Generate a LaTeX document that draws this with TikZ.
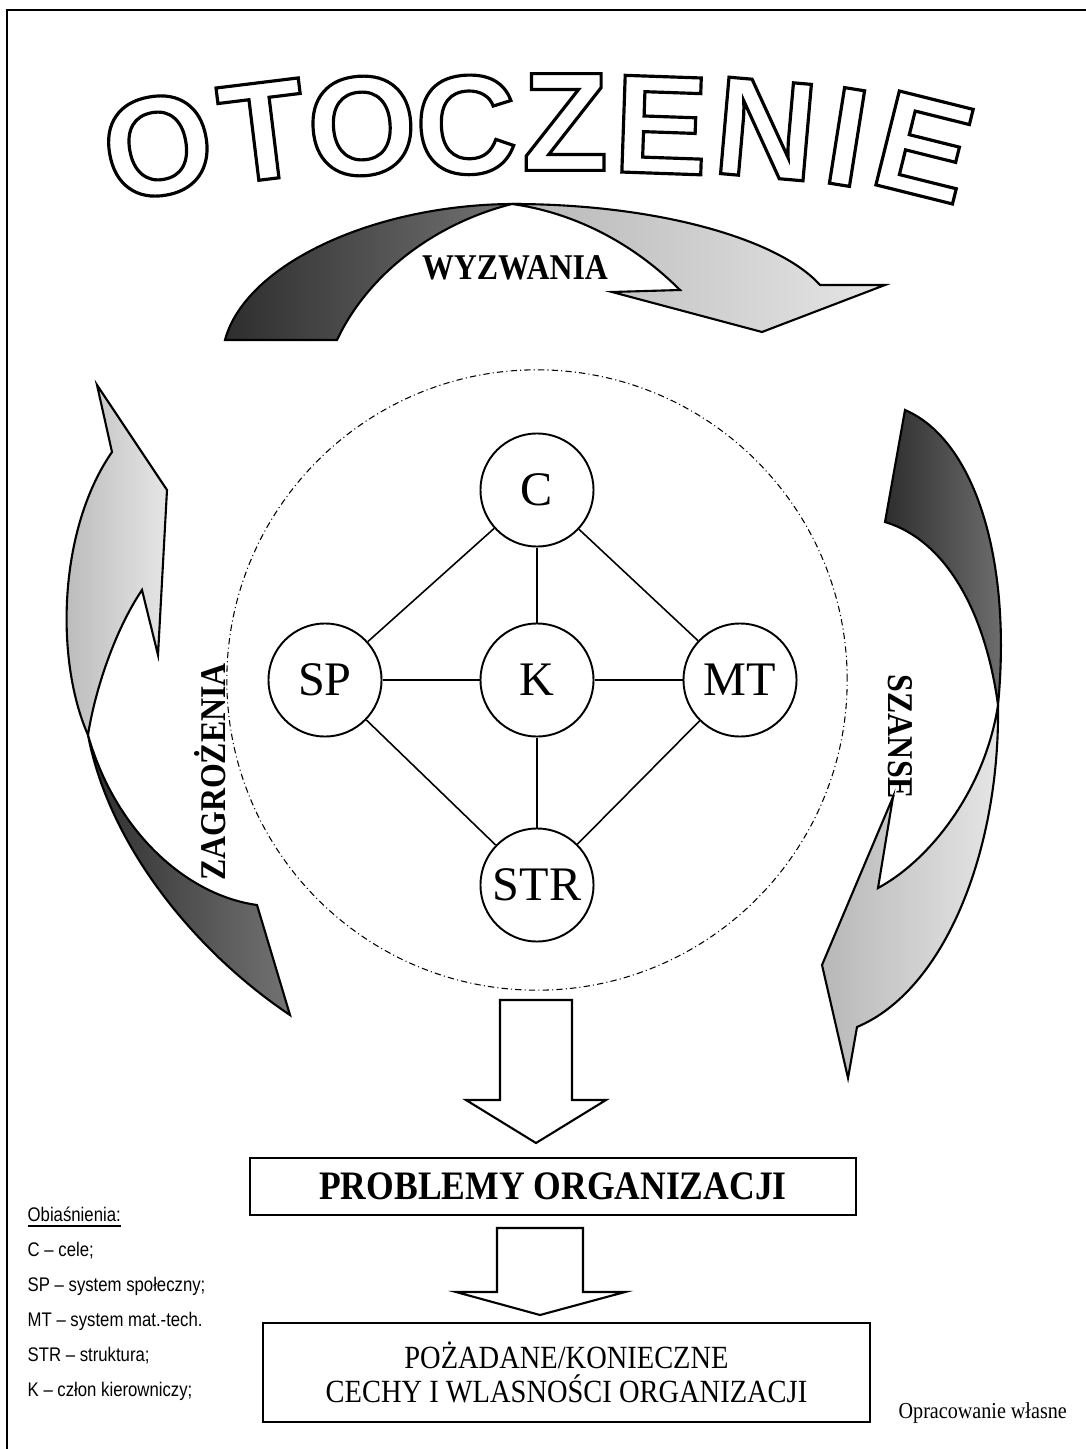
\documentclass[tikz,border=0pt]{standalone}
\usepackage{fontspec}
\setmainfont{Liberation Serif}
\newfontfamily\waski{Liberation Serif}[FakeStretch=0.88]
\newfontfamily\bezszer{Liberation Sans}[FakeStretch=0.85]
\newfontfamily\gruby{Liberation Sans}

\begin{document}
\begin{tikzpicture}[x=0.01cm,y=-0.01cm,
	elem/.style={circle,draw,line width=0.55pt,minimum size=1.13cm,inner sep=0pt,font=\fontsize{13.7}{16}\selectfont},
	litera/.style={inner sep=0pt,font=\gruby\bfseries\fontsize{40}{48}\selectfont},
	napis/.style={font=\waski\bfseries\fontsize{10.3}{12}\selectfont},
	ciemny/.style={draw,line width=0.6pt,left color=black!82,right color=black!55},
	jasny/.style={draw,line width=0.6pt,left color=black!28,right color=black!10},
	ramka/.style={draw,line width=0.6pt,inner sep=0pt},
	obj/.style={anchor=base west,inner sep=0pt,font=\bezszer\fontsize{5.6}{7}\selectfont}]
	\useasboundingbox (0,0) rectangle (1086,1449);
	%ramka
	\draw[line width=0.6pt] (7,1460) -- (7,10) -- (1095,10);
	%otoczenie (litery konturowe)
	\foreach \l/\x/\y/\r in {O/158/146/10,T/263/131/7,O/362/126/4,C/466/125/2,Z/565/122/0,E/661/125/-2,N/766/129/-5,I/847/137/-9,E/924/147/-14}
		\node[litera,rotate=\r] (lit\x) at (\x,\y) {\special{pdf:literal direct q 1 Tr 0.9 w}\l\special{pdf:literal direct Q}};
	%wyzwania
	\draw[ciemny] (225,340) .. controls (245,265) and (372,205) .. (512,204)
		.. controls (440,222) and (370,270) .. (337,340) -- cycle;
	\draw[jasny] (512,204) .. controls (660,204) and (780,240) .. (820,285) -- (885,285)
		-- (762,332) -- (612,292) -- (680,290) .. controls (630,240) and (570,212) .. (512,204) -- cycle;
	\node[napis] (wyz) at (515,268) {WYZWANIA};
	%zagrozenia
	\draw[jasny] (97,385) -- (167,490) -- (158,655) -- (142,590)
		.. controls (115,630) and (95,690) .. (88,735)
		.. controls (55,660) and (58,530) .. (112,452) -- cycle;
	\draw[ciemny] (88,735) .. controls (110,850) and (200,955) .. (290,1015) -- (257,905)
		.. controls (185,895) and (115,830) .. (88,735) -- cycle;
	\node[napis,rotate=90] (zag) at (210,772) {ZAGROŻENIA};
	%szanse
	\draw[ciemny] (905,410) .. controls (975,440) and (1012,560) .. (998,705)
		.. controls (985,610) and (945,540) .. (885,522) -- cycle;
	\draw[jasny] (998,705) .. controls (1000,850) and (945,990) .. (857,1027) -- (848,1078)
		-- (822,965) -- (893,797) -- (878,888) .. controls (930,860) and (985,790) .. (998,705) -- cycle;
	\node[napis,rotate=-90] (sza) at (900,737) {SZANSE};
	%organizacja
	\node[elem] (K) at (537,680) {K};
	\node[elem] (C) at (537,490) {C};
	\node[elem] (SP) at (325,680) {SP};
	\node[elem] (MT) at (740,680) {MT};
	\node[elem] (STR) at (537,885) {STR};
	\draw[line width=0.3pt,dash pattern=on 1.8pt off 0.9pt on 0.3pt off 0.9pt] (K.center) circle [radius=3.1cm];
	\foreach \a/\b in {C/K,C/SP,C/MT,SP/K,K/MT,SP/STR,MT/STR,K/STR}
		\draw[line width=0.45pt] (\a) -- (\b);
	%strzalki w dol
	\draw[line width=0.6pt] (500,1000) -- (572,1000) -- (572,1100) -- (606,1100) -- (536,1143)
		-- (466,1100) -- (500,1100) -- cycle;
	\node[ramka,minimum width=6.06cm,minimum height=0.57cm,font=\waski\bfseries\fontsize{11.5}{13}\selectfont] (prob) at (553,1186.5) {PROBLEMY ORGANIZACJI};
	\draw[line width=0.6pt] (497,1228) -- (583,1228) -- (583,1292) -- (625,1292) -- (540,1315)
		-- (456,1292) -- (497,1292) -- cycle;
	\node[ramka,minimum width=6.07cm,minimum height=0.99cm,align=center,font=\waski\fontsize{9.2}{9.6}\selectfont] (cechy) at (566.5,1372.5) {POŻADANE/KONIECZNE\\CECHY I WLASNOŚCI ORGANIZACJI};
	\node[anchor=base west,inner sep=0pt,font=\waski\fontsize{6.5}{8}\selectfont] (zrodlo) at (898,1418) {Opracowanie własne};
	%objasnienia
	\node[obj] (o0) at (27,1221) {\underline{Obiaśnienia:}};
	\node[obj] (o1) at (27,1256) {C – cele;};
	\node[obj] (o2) at (27,1291) {SP – system społeczny;};
	\node[obj] (o3) at (27,1326) {MT – system mat.-tech.};
	\node[obj] (o4) at (27,1361) {STR – struktura;};
	\node[obj] (o5) at (27,1396) {K – człon kierowniczy;};
\end{tikzpicture}
\end{document}
